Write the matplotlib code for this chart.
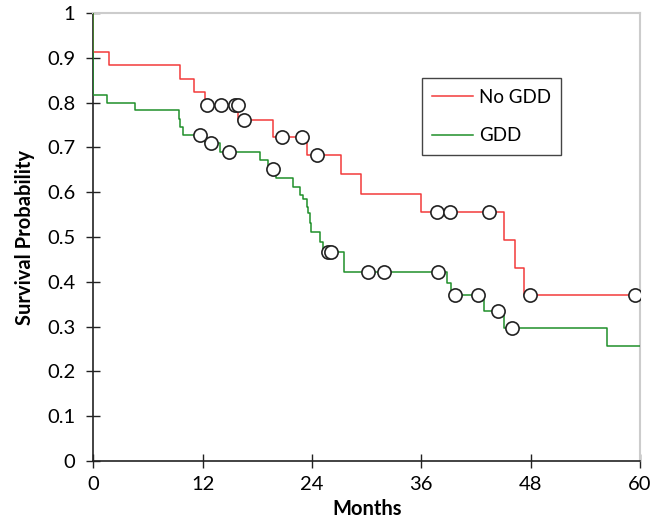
import matplotlib
matplotlib.use('Agg')
import matplotlib.pyplot as plt
from matplotlib.ticker import FuncFormatter

plt.rcParams['font.family'] = ['Lato', 'DejaVu Sans']

# curva Kaplan-Meier "No GDD" (tempos dos degraus e sobrevivência após cada degrau)
no_gdd_t = [0, 0, 1.75, 9.5, 11.1, 12.3, 15.9, 19.7, 23.5, 27.2, 29.4, 36.0, 45.1, 46.3, 47.3, 59.5]
no_gdd_s = [1.0, 0.912, 0.884, 0.853, 0.824, 0.795, 0.762, 0.724, 0.684, 0.641, 0.597, 0.555, 0.493, 0.431, 0.370, 0.370]
# observações censuradas
no_gdd_cens_t = [12.5, 14.0, 15.6, 15.9, 16.5, 20.7, 22.9, 24.5, 37.7, 39.1, 43.4, 47.9, 59.5]
no_gdd_cens_s = [0.795, 0.795, 0.795, 0.795, 0.762, 0.724, 0.724, 0.684, 0.555, 0.555, 0.555, 0.370, 0.370]

# curva "GDD"
gdd_t = [0, 0, 1.5, 4.6, 9.35, 9.55, 9.85, 12.3, 13.85, 18.3, 19.2, 20.0, 21.95, 22.7, 23.0, 23.4,
         23.6, 23.8, 23.9, 24.9, 25.2, 27.5, 38.8, 39.3, 42.9, 45.1, 56.4, 60]
gdd_s = [1.0, 0.818, 0.800, 0.783, 0.764, 0.746, 0.728, 0.711, 0.690, 0.672, 0.651, 0.631, 0.612, 0.594, 0.585, 0.568,
         0.553, 0.531, 0.512, 0.490, 0.467, 0.423, 0.397, 0.371, 0.336, 0.298, 0.257, 0.257]
gdd_cens_t = [11.7, 12.9, 14.9, 19.7, 25.8, 26.05, 30.2, 31.9, 37.8, 39.7, 42.2, 44.4, 46.0]
gdd_cens_s = [0.728, 0.711, 0.690, 0.651, 0.467, 0.467, 0.423, 0.423, 0.423, 0.371, 0.371, 0.336, 0.298]

x_ticks = [0, 12, 24, 36, 48, 60]
y_ticks = [0, 0.1, 0.2, 0.3, 0.4, 0.5, 0.6, 0.7, 0.8, 0.9, 1.0]

cor_vermelho = '#f23a3a'
cor_verde = '#1f8f2a'

fig = plt.figure(figsize=(6.55, 5.23), dpi=100)
ax = fig.add_axes([0.1425, 0.1185, 0.8345, 0.8565])

ax.step(no_gdd_t, no_gdd_s, where='post', color=cor_vermelho, lw=1.1, label='No GDD', zorder=3)
ax.step(gdd_t, gdd_s, where='post', color=cor_verde, lw=1.1, label='GDD', zorder=3)

ax.plot(no_gdd_cens_t, no_gdd_cens_s, ls='none', marker='o', ms=9.5, mfc='white', mec='#222222', mew=1.2, zorder=4)
ax.plot(gdd_cens_t, gdd_cens_s, ls='none', marker='o', ms=9.5, mfc='white', mec='#222222', mew=1.2, zorder=4)

ax.set_xlim(0, 60)
ax.set_ylim(0, 1)
ax.set_xticks(x_ticks)
ax.set_yticks(y_ticks)
ax.yaxis.set_major_formatter(FuncFormatter(lambda v, p: f'{v:g}'))

ax.tick_params(axis='both', direction='inout', length=10, width=1, color='#222222', labelsize=14.5)
ax.tick_params(axis='y', pad=8)
ax.tick_params(axis='x', pad=6)

for lado in ['left', 'bottom']:
    ax.spines[lado].set_color('#222222')
    ax.spines[lado].set_linewidth(1.2)
for lado in ['top', 'right']:
    ax.spines[lado].set_color('#cccccc')
    ax.spines[lado].set_linewidth(1.5)

ax.set_xlabel('Months', fontsize=14.5, fontweight='bold', labelpad=4)
ax.set_ylabel('Survival Probability', fontsize=14.5, fontweight='bold', labelpad=9)

leg = ax.legend(loc='upper left', bbox_to_anchor=(0.6007, 0.854), borderaxespad=0, fontsize=13.5,
                frameon=True, fancybox=False, edgecolor='#444444', framealpha=1,
                handlelength=2.2, handletextpad=0.3, labelspacing=1.15, borderpad=0.55)
leg.get_frame().set_linewidth(1.0)

fig.savefig('out.png', dpi=100)
